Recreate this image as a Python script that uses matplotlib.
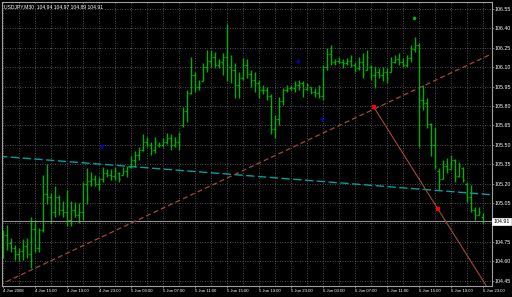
import numpy as np
import matplotlib
matplotlib.use('Agg')
import matplotlib.pyplot as plt

plt.rcParams['font.family'] = ['Liberation Sans', 'DejaVu Sans']

# USDJPY M30 bars, 4 Jun 2008 11:00 .. 6 Jun 2008 23:00
highs = [104.84, 104.88, 104.78, 104.73, 104.70, 104.77, 104.78, 104.94, 104.92, 104.86,
         105.27, 105.35, 105.13, 105.18, 105.11, 105.07, 105.15, 105.07, 105.06, 105.05,
         105.21, 105.32, 105.29, 105.27, 105.25, 105.33, 105.31, 105.31, 105.33, 105.29,
         105.33, 105.34, 105.41, 105.45, 105.48, 105.58, 105.56, 105.52, 105.56, 105.52,
         105.55, 105.59, 105.58, 105.56, 105.60, 105.79, 105.92, 106.18, 106.06, 106.00,
         106.13, 106.23, 106.23, 106.22, 106.16, 106.21, 106.43, 106.19, 106.13, 106.06,
         106.17, 106.16, 106.08, 106.06, 106.00, 105.96, 105.95, 105.89, 105.73, 105.87,
         105.94, 105.96, 105.96, 105.99, 106.00, 105.99, 105.98, 105.95, 105.94, 105.96,
         106.12, 106.25, 106.27, 106.16, 106.18, 106.16, 106.17, 106.19, 106.14, 106.18,
         106.21, 106.23, 106.12, 106.11, 106.09, 106.10, 106.09, 106.18, 106.19, 106.21,
         106.17, 106.19, 106.27, 106.33, 106.29, 105.96, 105.86, 105.67, 105.64, 105.32,
         105.38, 105.40, 105.42, 105.39, 105.37, 105.33, 105.21, 105.19, 105.02, 105.02,
         104.97]
lows = [104.63, 104.69, 104.67, 104.61, 104.60, 104.61, 104.63, 104.55, 104.67, 104.67,
        104.83, 105.04, 104.90, 104.94, 104.96, 104.94, 104.87, 104.87, 104.94, 104.90,
        104.92, 105.04, 105.18, 105.18, 105.15, 105.21, 105.25, 105.23, 105.23, 105.21,
        105.27, 105.25, 105.32, 105.33, 105.38, 105.45, 105.48, 105.42, 105.44, 105.48,
        105.48, 105.51, 105.46, 105.48, 105.46, 105.64, 105.68, 105.89, 105.91, 105.92,
        105.99, 106.06, 106.10, 106.09, 106.09, 106.04, 105.99, 105.98, 105.86, 105.86,
        106.00, 106.02, 105.95, 105.91, 105.86, 105.89, 105.85, 105.58, 105.55, 105.65,
        105.81, 105.91, 105.92, 105.91, 105.92, 105.87, 105.92, 105.89, 105.87, 105.86,
        105.85, 106.08, 106.12, 106.12, 106.13, 106.09, 106.12, 106.10, 106.06, 106.08,
        106.02, 106.08, 106.00, 105.94, 106.02, 105.99, 105.98, 106.06, 106.13, 106.12,
        106.10, 106.10, 106.14, 106.22, 105.48, 105.77, 105.63, 105.41, 105.31, 105.15,
        105.24, 105.28, 105.31, 105.21, 105.25, 105.21, 105.06, 104.98, 104.92, 104.96,
        104.89]
opens = [104.70, 104.80, 104.74, 104.70, 104.66, 104.68, 104.72, 104.66, 104.85, 104.70,
         104.84, 105.12, 105.10, 104.98, 105.10, 105.00, 104.98, 104.92, 105.00, 104.96,
         104.98, 105.20, 105.22, 105.24, 105.20, 105.24, 105.28, 105.27, 105.26, 105.28,
         105.27, 105.30, 105.33, 105.38, 105.42, 105.46, 105.52, 105.50, 105.46, 105.50,
         105.50, 105.52, 105.55, 105.50, 105.52, 105.65, 105.76, 105.90, 106.04, 105.95,
         105.99, 106.10, 106.15, 106.18, 106.12, 106.14, 106.18, 106.10, 106.08, 105.96,
         106.02, 106.12, 106.05, 106.00, 105.98, 105.92, 105.92, 105.88, 105.62, 105.70,
         105.84, 105.92, 105.94, 105.94, 105.96, 105.98, 105.93, 105.95, 105.91, 105.90,
         105.88, 106.10, 106.20, 106.14, 106.15, 106.14, 106.13, 106.15, 106.12, 106.09,
         106.14, 106.08, 106.10, 106.04, 106.06, 106.04, 106.06, 106.06, 106.14, 106.16,
         106.14, 106.12, 106.17, 106.24, 106.27, 105.85, 105.82, 105.66, 105.50, 105.30,
         105.24, 105.34, 105.31, 105.38, 105.26, 105.32, 105.20, 105.10, 105.00, 104.96,
         104.94]
closes = [104.80, 104.74, 104.70, 104.66, 104.68, 104.72, 104.66, 104.85, 104.70, 104.84,
          105.12, 105.10, 104.98, 105.10, 105.00, 104.98, 104.92, 105.00, 104.96, 104.98,
          105.20, 105.22, 105.24, 105.20, 105.24, 105.28, 105.27, 105.26, 105.30, 105.24,
          105.30, 105.33, 105.38, 105.42, 105.46, 105.52, 105.50, 105.46, 105.52, 105.50,
          105.52, 105.55, 105.50, 105.52, 105.58, 105.76, 105.90, 106.04, 105.95, 105.98,
          106.10, 106.15, 106.18, 106.12, 106.14, 106.18, 106.10, 106.08, 105.96, 106.02,
          106.12, 106.05, 106.00, 105.98, 105.92, 105.92, 105.88, 105.62, 105.70, 105.84,
          105.92, 105.94, 105.94, 105.96, 105.98, 105.93, 105.96, 105.91, 105.90, 105.88,
          106.10, 106.20, 106.14, 106.15, 106.14, 106.13, 106.15, 106.12, 106.09, 106.14,
          106.05, 106.18, 106.04, 106.06, 106.04, 106.06, 106.02, 106.14, 106.16, 106.14,
          106.12, 106.17, 106.24, 106.27, 105.85, 105.82, 105.66, 105.50, 105.34, 105.24,
          105.34, 105.31, 105.38, 105.26, 105.34, 105.23, 105.10, 105.00, 104.96, 104.98,
          104.91]

price_ticks = [104.45, 104.60, 104.75, 104.90, 105.05, 105.20, 105.35, 105.50, 105.65,
               105.80, 105.95, 106.10, 106.25, 106.40, 106.55]
time_labels = ['4 Jun 2008', '4 Jun 15:00', '4 Jun 19:00', '4 Jun 23:00', '5 Jun 03:00',
               '5 Jun 07:00', '5 Jun 11:00', '5 Jun 15:00', '5 Jun 19:00', '5 Jun 23:00',
               '6 Jun 03:00', '6 Jun 07:00', '6 Jun 11:00', '6 Jun 15:00', '6 Jun 19:00',
               '6 Jun 23:00']

# trendlines (bar index, price)
cyan_pts = ([0, 120], [105.41, 105.12])
brown_pts = ([0, 120], [104.43, 106.17])
red_pts = ([92.8, 108.8], [105.79, 105.005])
green_dot = (102.8, 106.48)
blue_dots = ([24.8, 73.8, 79.8], [105.49, 106.15, 105.70])
last_price = 104.91
title = 'USDJPY,M30  104.94 104.97 104.89 104.91'

fig = plt.figure(figsize=(5.12, 2.97), dpi=100, facecolor='black')
ax = fig.add_axes([1.5/512, 11/297, 490/512, 284/297], facecolor='black')
ax.set_xlim(-0.3, 122.2)
ax.set_ylim(104.41, 106.603)

x = np.arange(len(highs))
bar_col = '#00b000'
ax.vlines(x, lows, highs, color=bar_col, lw=1.0)
ax.hlines(opens, x - 0.4, x, color=bar_col, lw=0.9)
ax.hlines(closes, x, x + 0.4, color=bar_col, lw=0.9)

# grid
ax.set_xticks(np.arange(0, 121, 8))
ax.set_xticks(np.arange(0, 123, 4), minor=True)
ax.set_xticklabels(time_labels, ha='left', fontsize=3.1, color='white')
ax.set_yticks(price_ticks)
# 104.90 label is hidden under the current price box
ax.set_yticklabels(['' if p == 104.90 else '%.2f' % p for p in price_ticks],
                   fontsize=3.8, color='white')
ax.yaxis.tick_right()
ax.tick_params(axis='both', which='both', length=1.5, width=0.5, color='#a0a0a0', pad=0.8)
ax.tick_params(axis='x', which='minor', length=0)
ax.grid(which='both', axis='x', color='#6a6a6a', lw=0.6, ls=(0, (1, 2)))
ax.grid(which='major', axis='y', color='#6a6a6a', lw=0.6, ls=(0, (1, 2)))
ax.set_axisbelow(True)
for s in ax.spines.values():
    s.set_color('#a0a0a0')
    s.set_linewidth(0.8)

# current price line
ax.axhline(last_price, color='#909090', lw=0.8)

# trendlines extended over the chart
xx = np.array([-1, 123])
k = (cyan_pts[1][1] - cyan_pts[1][0]) / (cyan_pts[0][1] - cyan_pts[0][0])
ax.plot(xx, cyan_pts[1][0] + k * (xx - cyan_pts[0][0]), color='#00a0a0', lw=1.0, ls=(0, (6, 2.5)))
k = (brown_pts[1][1] - brown_pts[1][0]) / (brown_pts[0][1] - brown_pts[0][0])
ax.plot(xx, brown_pts[1][0] + k * (xx - brown_pts[0][0]), color='#a04a36', lw=0.9, ls=(0, (4, 2.5)))
k = (red_pts[1][1] - red_pts[1][0]) / (red_pts[0][1] - red_pts[0][0])
xr = np.array([red_pts[0][0], 123])
ax.plot(xr, red_pts[1][0] + k * (xr - red_pts[0][0]), color='#a04a36', lw=0.8)
ax.plot(red_pts[0], red_pts[1], 's', color='red', ms=2.2, mew=0)
ax.plot(*green_dot, 'o', color='#00c000', ms=2.5, mew=0)
ax.plot(blue_dots[0], blue_dots[1], 'P', color='#0000e0', ms=3, mew=0)

ax.text(0.006, 0.993, title, transform=ax.transAxes, ha='left', va='top',
        fontsize=3.6, color='white')
ax.text(1.004, last_price, '%.2f' % last_price, transform=ax.get_yaxis_transform(),
        ha='left', va='center', fontsize=3.8, color='black',
        bbox=dict(boxstyle='square,pad=0.2', fc='white', ec='white', lw=0.5))

plt.savefig('out.png', dpi=100, facecolor='black')
